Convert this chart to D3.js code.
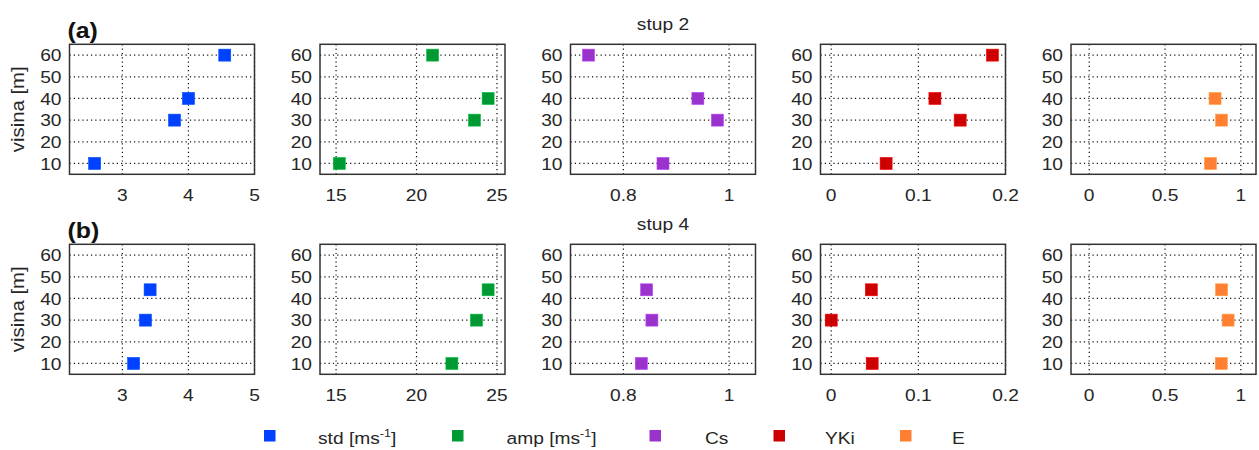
<!DOCTYPE html>
<html><head><meta charset="utf-8">
<script src="https://cdn.jsdelivr.net/npm/d3@7"></script>
<style>body{margin:0;background:#fff}svg{display:block}</style>
</head><body>
<svg id="c" width="1259" height="450"></svg>
<script>
// ---- data ----
const rowLabels = ["(a)", "(b)"];
const rowTitles = ["stup 2", "stup 4"];
const heightsA = [10, 30, 40, 60];
const heightsB = [10, 30, 44];
const yTicks = [10, 20, 30, 40, 50, 60];
const seriesNames = ["std", "amp", "Cs", "YKi", "E"];
const legendLabels = ["std [ms", "amp [ms", "Cs", "YKi", "E"];
const colors = ["#0040ff", "#009933", "#9933cc", "#cc0000", "#ff8033"];
// stup 2 (a)
const stdA = [2.58, 3.79, 4.00, 4.55];
const ampA = [15.2, 23.6, 24.45, 21.0];
const csA = [0.875, 0.978, 0.941, 0.734];
const ykiA = [0.063, 0.148, 0.119, 0.185];
const eA = [0.80, 0.873, 0.83, null];
// stup 4 (b)
const stdB = [3.17, 3.35, 3.42];
const ampB = [22.2, 23.73, 24.45];
const csB = [0.834, 0.854, 0.844];
const ykiB = [0.047, 0.0, 0.046];
const eB = [0.871, 0.916, 0.873];
// axes
const xDomains = [[2.2, 5], [14, 25.5], [0.7, 1.05], [-0.0123, 0.2], [-0.12, 1.1]];
const xTicks = [[3, 4, 5], [15, 20, 25], [0.8, 1], [0, 0.1, 0.2], [0, 0.5, 1]];
const yDomain = [5, 65];

const rows = [
  {heights: heightsA, vals: [stdA, ampA, csA, ykiA, eA]},
  {heights: heightsB, vals: [stdB, ampB, csB, ykiB, eB]}
];

// ---- layout ----
const svg = d3.select("#c");
const font = "'Liberation Sans', Arial, sans-serif";
const txt = "#262626";
const SX = 1.13;
const pw = 185, ph = 130;
const lefts = [69.5, 320, 570.5, 820.5, 1071];
const tops = [44.3, 244.3];
const ms = 12;

function stext(parent, x, y, str, o = {}) {
  const g = parent.append("g")
    .attr("transform", `translate(${x},${y})${o.rot ? " rotate(" + o.rot + ")" : ""} scale(${SX},1)`);
  return g.append("text")
    .attr("text-anchor", o.anchor || "start")
    .attr("dy", o.dy || null)
    .attr("font-family", font).attr("font-size", o.size || 17)
    .attr("font-weight", o.weight || null)
    .attr("fill", o.fill || txt).text(str);
}

rows.forEach((row, r) => {
  const top = tops[r];
  const y = d3.scaleLinear().domain(yDomain).range([top + ph, top]);
  seriesNames.forEach((name, i) => {
    const left = lefts[i];
    const x = d3.scaleLinear().domain(xDomains[i]).range([left, left + pw]);
    const g = svg.append("g");
    // grid
    g.selectAll("line.gx").data(xTicks[i]).join("line")
      .attr("x1", d => x(d)).attr("x2", d => x(d))
      .attr("y1", top).attr("y2", top + ph)
      .attr("stroke", "#111").attr("stroke-width", 1.2).attr("stroke-dasharray", "1.2,3.1");
    g.selectAll("line.gy").data(yTicks).join("line")
      .attr("x1", left).attr("x2", left + pw)
      .attr("y1", d => y(d)).attr("y2", d => y(d))
      .attr("stroke", "#111").attr("stroke-width", 1.2).attr("stroke-dasharray", "1.2,3.1");
    // frame
    g.append("rect").attr("x", left).attr("y", top).attr("width", pw).attr("height", ph)
      .attr("fill", "none").attr("stroke", "#333").attr("stroke-width", 1.5);
    // tick labels
    yTicks.forEach(t => stext(g, left - 8, y(t), t, {anchor: "end", dy: "0.36em"}));
    xTicks[i].forEach(t => stext(g, x(t), top + ph + 27, d3.format("~g")(t), {anchor: "middle"}));
    // points
    const pts = row.heights.map((h, k) => ({h, v: row.vals[i][k]})).filter(p => p.v != null);
    g.selectAll("rect.pt").data(pts).join("rect")
      .attr("x", d => x(d.v) - ms / 2).attr("y", d => y(d.h) - ms / 2)
      .attr("width", ms).attr("height", ms).attr("fill", colors[i])
      .attr("stroke", d3.color(colors[i]).brighter(0.6)).attr("stroke-width", 0.6);
  });
  // row label, title, y-label
  stext(svg, 67.5, top - 6, rowLabels[r], {size: 22, weight: "bold", fill: "#111"});
  stext(svg, lefts[2] + pw / 2, top - 14, rowTitles[r], {anchor: "middle"});
  stext(svg, 24, top + ph / 2, "visina [m]", {anchor: "middle", rot: -90, size: 18});
});

// ---- legend ----
const legSq = [264, 452, 649.5, 773.5, 900];
const legTx = [318, 506.5, 705, 825, 952];
const legY = 436;
seriesNames.forEach((name, i) => {
  svg.append("rect").attr("x", legSq[i]).attr("y", legY - 6).attr("width", 11.5).attr("height", 11.5)
    .attr("fill", colors[i]);
  const t = stext(svg, legTx[i], legY + 8, legendLabels[i], {size: 17});
  if (i < 2) {
    t.append("tspan").attr("dy", -7).attr("font-size", 11).text("-1");
    t.append("tspan").attr("dy", 7).text("]");
  }
});
</script>
</body></html>
